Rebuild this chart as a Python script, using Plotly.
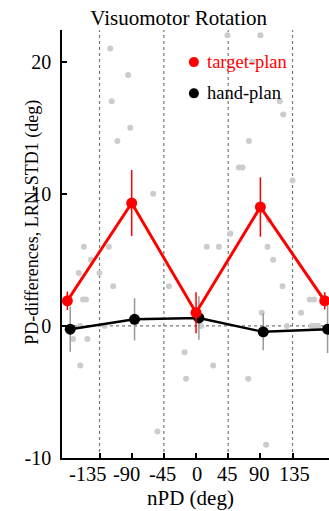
import plotly.graph_objects as go

# Preferred-direction categories (deg)
npd = [-180, -90, 0, 90, 180]

# Mean PD differences with SEM
target_plan = [1.9, 9.3, 1.0, 9.0, 1.9]
target_err = [0.7, 2.5, 1.55, 2.25, 0.65]
hand_plan = [-0.25, 0.5, 0.6, -0.45, -0.25]
hand_err = [1.7, 1.6, 1.65, 1.4, 1.8]

# Individual cells (nPD, PD difference)
cell_npd = [-120, -95, -118, -92, -110, -60, 44, 90, 79, 117, 122, 74, 60, 65, 135,
            -157, -122, -147, -164, -135, -116, -38, -158, -154, -162, -128, -152,
            -172, -162, -16, -14, -54, 24, 73, 98, 48, 15, 32, 102, 100, 108, 121,
            159, 165, 147, 92, 127, 162, 166, 171, 7]
cell_diff = [21, 19, 17, 15, 14, 10, 22, 22, 20, 17, 16, 14, 12, 12, 11,
             6, 6, 5, 4, 4, 3, 3, 2, 2, 0, 0, -1,
             -1, -3, -2, -4, -8, -3, -4, -9, 7, 6, 6, 8, 6, 5, 3,
             2, 2, 1, 1, 0, 0, 0, 0, 0]

x_ticks = [-135, -90, -45, 0, 45, 90, 135]
x_ticktext = ["-135", "-90", "-45", "0", "45", "90", "135"]
y_ticks = [-10, 0, 10, 20]
y_ticktext = ["-10", "0", "10", "20"]
divider_npd = [-135, -45, 45, 135]

hand_dodge = 4  # shift hand-plan points so they don't hide target-plan points
# horizontal nudges (px) for the crowded x tick labels
x_label_nudge = [-12, -5, -1.5, 1, -0.5, -1, 2]

SERIF = "Liberation Serif, Times New Roman, serif"

fig = go.Figure()

fig.add_trace(go.Scatter(
    x=cell_npd, y=cell_diff, mode="markers",
    marker=dict(size=6, color="#cccccc"),
    showlegend=False, hoverinfo="skip"))

fig.add_trace(go.Scatter(
    x=[v + hand_dodge for v in npd], y=hand_plan, mode="lines+markers",
    line=dict(color="black", width=2.5),
    marker=dict(size=11, color="black"),
    error_y=dict(type="data", array=hand_err, color="#999999", thickness=1.5, width=0),
    name="hand-plan", showlegend=False, cliponaxis=False))

fig.add_trace(go.Scatter(
    x=npd, y=target_plan, mode="lines+markers",
    line=dict(color="#ff0000", width=3),
    marker=dict(size=11, color="#ff0000"),
    error_y=dict(type="data", array=target_err, color="#ff0000", thickness=1.5, width=0),
    name="target-plan", showlegend=False, cliponaxis=False))

shapes = []
for v in divider_npd:
    shapes.append(dict(type="line", xref="x", yref="paper", x0=v, x1=v, y0=0, y1=1,
                       line=dict(color="#777777", width=1.2, dash="dot"), layer="below"))
shapes.append(dict(type="line", xref="paper", yref="y", x0=0, x1=1, y0=0, y1=0,
                   line=dict(color="#777777", width=1.2, dash="dot"), layer="below"))

# Legend entries
legend_items = [("target-plan", "#ff0000", 0.925), ("hand-plan", "black", 0.852)]
annotations = []
for label, color, ypos in legend_items:
    shapes.append(dict(type="circle", xref="paper", yref="paper",
                       xsizemode="pixel", ysizemode="pixel",
                       xanchor=0.494, yanchor=ypos, x0=-5, x1=5, y0=-5, y1=5,
                       fillcolor=color, line=dict(color=color, width=0)))
    annotations.append(dict(text=label, xref="paper", yref="paper", x=0.536, y=ypos,
                            xanchor="left", yanchor="middle", showarrow=False,
                            font=dict(family=SERIF, size=18.5, color=color)))

# x tick labels
for val, txt, nudge in zip(x_ticks, x_ticktext, x_label_nudge):
    annotations.append(dict(text=txt, xref="x", yref="paper", x=val, y=-0.0374,
                            xanchor="center", yanchor="middle", xshift=nudge,
                            showarrow=False,
                            font=dict(family=SERIF, size=20.5, color="black")))

annotations.append(dict(text="PD-differences, LRN-STD1 (deg)", xref="paper", yref="paper",
                        x=-0.11, y=0.551, xanchor="center", yanchor="middle",
                        textangle=-90, showarrow=False,
                        font=dict(family=SERIF, size=18, color="black")))
annotations.append(dict(text="nPD (deg)", xref="paper", yref="paper",
                        x=0.483, y=-0.093, xanchor="center", yanchor="middle",
                        showarrow=False, font=dict(family=SERIF, size=21, color="black")))

fig.update_layout(
    width=329, height=511,
    margin=dict(l=62, r=0, t=30, b=53),
    paper_bgcolor="white", plot_bgcolor="white",
    title=dict(text="Visuomotor Rotation", x=0.543, xanchor="center",
               y=0.966, yanchor="middle",
               font=dict(family=SERIF, size=21, color="black")),
    shapes=shapes, annotations=annotations,
    showlegend=False,
    xaxis=dict(range=[-187.5, 186], tickvals=x_ticks, showticklabels=False,
               automargin=False,
               showgrid=False, zeroline=False, showline=True, linecolor="black",
               linewidth=1.5, ticks="inside", ticklen=5, tickwidth=1.5,
               tickcolor="black"),
    yaxis=dict(range=[-10, 22.4], tickvals=y_ticks, ticktext=y_ticktext,
               automargin=False,
               showgrid=False, zeroline=False, showline=True, linecolor="black",
               linewidth=1.5, ticks="inside", ticklen=5, tickwidth=1.5,
               tickcolor="black", ticklabelstandoff=5,
               tickfont=dict(family=SERIF, size=20, color="black")),
)

fig.write_html("out.html")
